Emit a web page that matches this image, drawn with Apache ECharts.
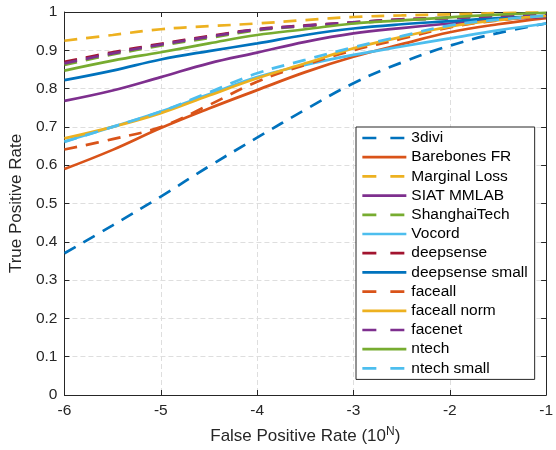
<!DOCTYPE html>
<html>
<head>
<meta charset="utf-8">
<script src="https://cdn.jsdelivr.net/npm/echarts@6/dist/echarts.min.js"></script>
<style>
  html, body { margin: 0; padding: 0; background: #fff; }
  #chart { width: 556px; height: 450px; }
</style>
</head>
<body>
<div id="chart"></div>
<script>
// log10 of false positive rate
const fpr = [-6, -5.5, -5, -4.5, -4, -3.5, -3, -2.5, -2, -1.5, -1]

const names = ['3divi', 'Barebones FR', 'Marginal Loss', 'SIAT MMLAB', 'ShanghaiTech', 'Vocord',
  'deepsense', 'deepsense small', 'faceall', 'faceall norm', 'facenet', 'ntech', 'ntech small']

const tpr3divi = [0.37, 0.443, 0.518, 0.597, 0.672, 0.745, 0.814, 0.868, 0.912, 0.945, 0.97]
const tprBarebones = [0.59, 0.64, 0.697, 0.748, 0.796, 0.843, 0.883, 0.916, 0.947, 0.968, 0.984]
const tprMarginal = [0.925, 0.94, 0.955, 0.963, 0.97, 0.979, 0.987, 0.991, 0.994, 0.997, 0.999]
const tprSiat = [0.768, 0.795, 0.83, 0.866, 0.894, 0.922, 0.944, 0.958, 0.97, 0.98, 0.987]
const tprShanghai = [0.862, 0.889, 0.912, 0.932, 0.952, 0.963, 0.971, 0.979, 0.984, 0.99, 0.996]
const tprVocord = [0.662, 0.70, 0.74, 0.785, 0.83, 0.862, 0.888, 0.91, 0.931, 0.952, 0.97]
const tprDeepsense = [0.87, 0.895, 0.917, 0.937, 0.955, 0.965, 0.973, 0.981, 0.985, 0.991, 0.996]
const tprDeepsenseSmall = [0.822, 0.847, 0.876, 0.898, 0.918, 0.94, 0.957, 0.968, 0.976, 0.984, 0.99]
const tprFaceall = [0.641, 0.668, 0.70, 0.757, 0.818, 0.862, 0.90, 0.93, 0.96, 0.978, 0.99]
const tprFaceallNorm = [0.67, 0.70, 0.736, 0.782, 0.827, 0.866, 0.905, 0.935, 0.962, 0.979, 0.99]
const tprFacenet = [0.866, 0.892, 0.915, 0.935, 0.954, 0.964, 0.973, 0.98, 0.984, 0.99, 0.996]
const tprNtech = [0.847, 0.873, 0.895, 0.918, 0.94, 0.955, 0.97, 0.978, 0.986, 0.993, 0.998]
const tprNtechSmall = [0.661, 0.70, 0.74, 0.79, 0.84, 0.875, 0.908, 0.937, 0.965, 0.98, 0.99]

const allTpr = [tpr3divi, tprBarebones, tprMarginal, tprSiat, tprShanghai, tprVocord,
  tprDeepsense, tprDeepsenseSmall, tprFaceall, tprFaceallNorm, tprFacenet, tprNtech, tprNtechSmall]

const colors = ['#0072BD', '#D95319', '#EDB120', '#7E2F8E', '#77AC30', '#4DBEEE', '#A2142F',
  '#0072BD', '#D95319', '#EDB120', '#7E2F8E', '#77AC30', '#4DBEEE']
const dashed = [true, false, true, false, true, false, true, false, true, false, true, false, true]

const font = '"Liberation Sans", Arial, Helvetica, sans-serif'
const axisColor = '#262626'

const series = names.map(function (name, i) {
  return {
    name: name,
    type: 'line',
    xAxisIndex: 0,
    yAxisIndex: 0,
    smooth: 0.4,
    symbol: 'none',
    data: fpr.map(function (x, j) { return [x, allTpr[i][j]] }),
    lineStyle: {
      width: 2.7,
      color: colors[i],
      type: dashed[i] ? [13, 9] : 'solid'
    },
    itemStyle: { color: colors[i] }
  }
})

const chart = echarts.init(document.getElementById('chart'))
chart.setOption({
  animation: false,
  grid: { left: 63, right: 5, top: 12, bottom: 55 },
  legend: {
    orient: 'vertical',
    left: 356,
    top: 127,
    padding: [3, 7, 3, 5],
    itemWidth: 44,
    itemHeight: 16,
    itemGap: 3.2,
    backgroundColor: '#fff',
    borderColor: axisColor,
    borderWidth: 1,
    borderRadius: 0,
    itemStyle: { opacity: 0 },
    textStyle: { fontFamily: font, fontSize: 15.5, color: '#000', lineHeight: 16 },
    data: names.map(function (name, i) {
      return {
        name: name,
        lineStyle: { width: 2.7, type: dashed[i] ? [14, 14] : 'solid' }
      }
    })
  },
  xAxis: [
    {
      type: 'value',
      position: 'bottom',
      min: -6,
      max: -1,
      interval: 1,
      name: 'False Positive Rate (10{sup|N})',
      nameLocation: 'middle',
      nameGap: 31,
      nameTextStyle: {
        fontFamily: font,
        fontSize: 17,
        color: axisColor,
        rich: {
          sup: { fontFamily: font, fontSize: 12, color: axisColor, verticalAlign: 'top', padding: [0, 0, 9, 0] }
        }
      },
      axisLine: { show: true, onZero: false, lineStyle: { color: axisColor, width: 1 } },
      axisTick: { show: true, inside: true, length: 5, lineStyle: { color: axisColor } },
      axisLabel: { fontFamily: font, fontSize: 15.5, color: axisColor, margin: 8 },
      splitLine: { show: true, lineStyle: { color: '#dedede', type: [5, 3], width: 1 } }
    },
    {
      type: 'value',
      position: 'top',
      min: -6,
      max: -1,
      interval: 1,
      axisLine: { show: true, onZero: false, lineStyle: { color: axisColor, width: 1 } },
      axisTick: { show: true, inside: true, length: 5, lineStyle: { color: axisColor } },
      axisLabel: { show: false },
      splitLine: { show: false }
    }
  ],
  yAxis: [
    {
      type: 'value',
      position: 'left',
      min: 0,
      max: 1,
      interval: 0.1,
      name: 'True Positive Rate',
      nameLocation: 'middle',
      nameGap: 37,
      nameTextStyle: { fontFamily: font, fontSize: 17, color: axisColor },
      axisLine: { show: true, onZero: false, lineStyle: { color: axisColor, width: 1 } },
      axisTick: { show: true, inside: true, length: 5, lineStyle: { color: axisColor } },
      axisLabel: { fontFamily: font, fontSize: 15.5, color: axisColor, margin: 7 },
      splitLine: { show: true, lineStyle: { color: '#dedede', type: [5, 3], width: 1 } }
    },
    {
      type: 'value',
      position: 'right',
      min: 0,
      max: 1,
      interval: 0.1,
      axisLine: { show: true, onZero: false, lineStyle: { color: axisColor, width: 1 } },
      axisTick: { show: true, inside: true, length: 5, lineStyle: { color: axisColor } },
      axisLabel: { show: false },
      splitLine: { show: false }
    }
  ],
  series: series
})
</script>
</body>
</html>
